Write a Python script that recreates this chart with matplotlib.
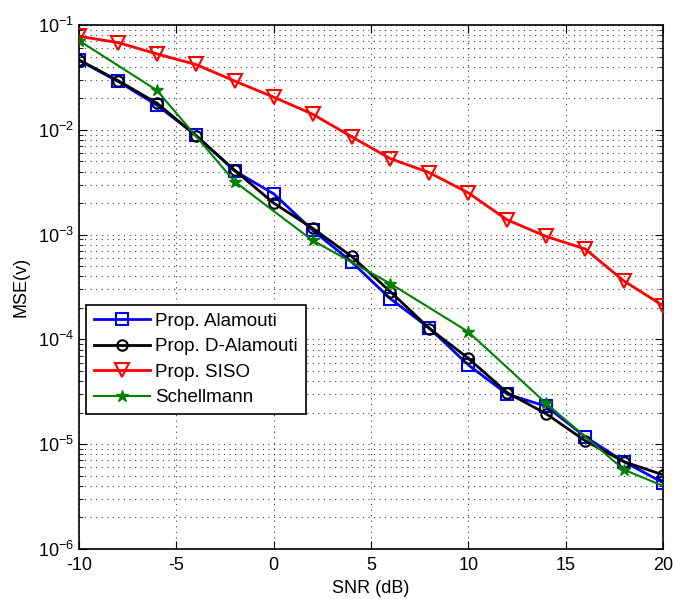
import matplotlib
matplotlib.use("Agg")
import matplotlib.pyplot as plt
from matplotlib.ticker import LogLocator, FixedLocator

plt.rcParams['font.family'] = ['Liberation Sans', 'DejaVu Sans']
plt.rcParams['mathtext.default'] = 'regular'
plt.rcParams['axes.unicode_minus'] = False

snr = [-10, -8, -6, -4, -2, 0, 2, 4, 6, 8, 10, 12, 14, 16, 18, 20]
mse_alamouti = [0.046, 0.029, 0.0172, 0.0089, 0.00405, 0.00245, 0.0011, 0.00055,
                0.000244, 0.000128, 5.7e-5, 3.0e-5, 2.3e-5, 1.18e-5, 6.8e-6, 4.3e-6]
mse_dalamouti = [0.0465, 0.0295, 0.018, 0.0088, 0.0041, 0.00200, 0.00115, 0.00062,
                 0.000285, 0.000127, 6.6e-5, 3.1e-5, 1.95e-5, 1.08e-5, 6.8e-6, 5.1e-6]
mse_siso = [0.078, 0.068, 0.053, 0.042, 0.0292, 0.0205, 0.0141, 0.0086, 0.0053,
            0.0039, 0.0025, 0.00138, 0.00096, 0.00073, 0.00036, 0.00021]
snr_schell = [-10, -6, -2, 2, 6, 10, 14, 18, 20]
mse_schell = [0.071, 0.0238, 0.0032, 0.00088, 0.00034, 0.000118, 2.45e-5, 5.7e-6, 4.0e-6]

labels = ['Prop. Alamouti', 'Prop. D-Alamouti', 'Prop. SISO', 'Schellmann']
xticks = [-10, -5, 0, 5, 10, 15, 20]

fig = plt.figure(figsize=(6.73, 5.99), dpi=100)
ax = fig.add_axes([79/673, 50/599, 584/673, 524/599])

ax.semilogy(snr, mse_alamouti, color='#0000ff', lw=2, marker='s', ms=9,
            mfc='none', mew=1.5, label=labels[0], zorder=3)
ax.semilogy(snr, mse_dalamouti, color='black', lw=2, marker='o', ms=7.5,
            mfc='none', mew=1.5, label=labels[1], zorder=4)
ax.semilogy(snr, mse_siso, color='#ff0000', lw=2, marker='v', ms=9.5,
            mfc='none', mew=1.5, label=labels[2], zorder=3)
ax.semilogy(snr_schell, mse_schell, color='#008000', lw=1.5, marker='*', ms=9,
            mfc='#008000', mew=1, markevery=list(range(8)), label=labels[3], zorder=5)

ax.set_xlim(-10, 20)
ax.set_ylim(1e-6, 1e-1)
ax.xaxis.set_major_locator(FixedLocator(xticks))
ax.yaxis.set_major_locator(LogLocator(base=10, numticks=10))
ax.yaxis.set_minor_locator(LogLocator(base=10, subs=range(2, 10), numticks=20))

gkw = dict(color='black', linestyle=(0, (1, 4)), linewidth=0.8, alpha=0.75)
ax.grid(True, which='major', axis='both', **gkw)
ax.grid(True, which='minor', axis='y', **gkw)

ax.tick_params(which='both', direction='in', top=True, right=True, labelsize=13)
ax.tick_params(which='major', length=6)
ax.tick_params(which='minor', length=3)
ax.tick_params(axis='x', pad=6)
for s in ax.spines.values():
    s.set_linewidth(1.2)

ax.set_xlabel('SNR (dB)', fontsize=13, labelpad=4)
ax.set_ylabel('MSE(v)', fontsize=13, labelpad=6)

leg = ax.legend(loc='upper left', bbox_to_anchor=(7/584, (549-305)/524),
                fontsize=13.5, handlelength=3.0, borderpad=0.4, labelspacing=0.45,
                handletextpad=0.3, fancybox=False, framealpha=1, edgecolor='black',
                borderaxespad=0)
leg.get_frame().set_linewidth(1.2)

fig.savefig('out.png', dpi=100)
